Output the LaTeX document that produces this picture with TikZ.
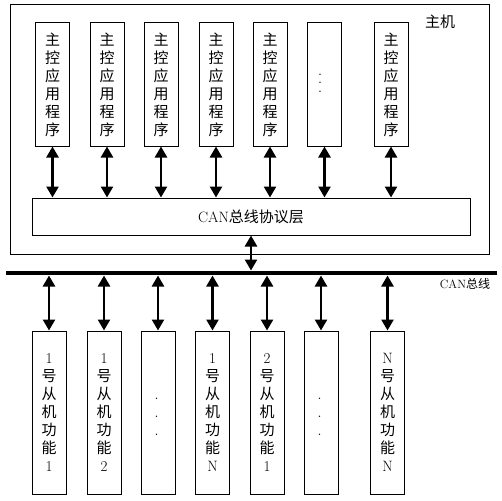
\documentclass[tikz,border=0pt]{standalone}
\usepackage{fontspec}
\newfontfamily\cjk{Noto Sans CJK SC}
\newcommand\lm[1]{{\rmfamily #1}}
\usepackage{tikz}
\usetikzlibrary{arrows.meta}

\begin{document}
\begin{tikzpicture}[x=1pt,y=-1pt,
  box/.style={draw=black,line width=1pt,inner sep=0pt,minimum width=34pt,align=center,font=\cjk\fontsize{15}{18}\selectfont},
  appbox/.style={box,minimum height=123pt},
  slavebox/.style={box,minimum height=163pt},
  dot/.style={inner sep=0pt,font=\bfseries\fontsize{9}{9}\selectfont},
  biarrow/.style={{Triangle[length=11pt,width=12pt]}-{Triangle[length=11pt,width=12pt]},line width=2.5pt}]
\useasboundingbox (0,0) rectangle (502,500);

% host
\node (host)[draw=black,line width=1pt,minimum width=479pt,minimum height=249pt,inner sep=0pt] at (249.5,129.5) {};
\node (hostlabel)[font=\cjk\fontsize{15}{18}\selectfont] at (440,22) {主机};

\node (app1)[appbox] at (52.5,84.5) {主\\控\\应\\用\\程\\序};
\node (app2)[appbox] at (107,84.5) {主\\控\\应\\用\\程\\序};
\node (app3)[appbox] at (161,84.5) {主\\控\\应\\用\\程\\序};
\node (app4)[appbox] at (216,84.5) {主\\控\\应\\用\\程\\序};
\node (app5)[appbox] at (270,84.5) {主\\控\\应\\用\\程\\序};
\node (app6)[appbox] at (324.5,84.5) {};
\node (app6a)[dot] at (320,74.5) {.};
\node (app6b)[dot] at (320,83) {.};
\node (app6c)[dot] at (320,92) {.};
\node (app7)[appbox] at (391,84.5) {主\\控\\应\\用\\程\\序};

\node (proto)[draw=black,line width=1pt,minimum width=438pt,minimum height=37pt,inner sep=0pt,font=\cjk\fontsize{15}{18}\selectfont] at (251,216.5) {\lm{CAN}总线协议层};

\draw[biarrow] (app1.south) to (app1.south |- proto.north);
\draw[biarrow] (app2.south) to (app2.south |- proto.north);
\draw[biarrow] (app3.south) to (app3.south |- proto.north);
\draw[biarrow] (app4.south) to (app4.south |- proto.north);
\draw[biarrow] (app5.south) to (app5.south |- proto.north);
\draw[biarrow] (app6.south) to (app6.south |- proto.north);
\draw[biarrow] (app7.south) to (app7.south |- proto.north);

% bus
\coordinate (busL) at (6,273);
\coordinate (busR) at (497,273);
\draw[line width=4.5pt] (busL) -- (busR);
\node (buslabel)[font=\cjk\fontsize{12}{14}\selectfont,inner sep=0pt] at (465,284) {\lm{CAN}总线};

\draw[biarrow,shorten >=2.5pt] (proto.south) to (proto.south |- busL);

\node (slave1)[slavebox] at (49,412.5) {\lm{1}\\号\\从\\机\\功\\能\\\lm{1}};
\node (slave2)[slavebox] at (104,412.5) {\lm{1}\\号\\从\\机\\功\\能\\\lm{2}};
\node (slave3)[slavebox] at (158,412.5) {};
\node (slave3a)[dot] at (156.5,399) {.};
\node (slave3b)[dot] at (156.5,417) {.};
\node (slave3c)[dot] at (156.5,435) {.};
\node (slave4)[slavebox] at (212.5,412.5) {\lm{1}\\号\\从\\机\\功\\能\\\lm{N}};
\node (slave5)[slavebox] at (267,412.5) {\lm{2}\\号\\从\\机\\功\\能\\\lm{1}};
\node (slave6)[slavebox] at (321,412.5) {};
\node (slave6a)[dot] at (319.5,399) {.};
\node (slave6b)[dot] at (319.5,417) {.};
\node (slave6c)[dot] at (319.5,435) {.};
\node (slave7)[slavebox] at (387.5,412.5) {\lm{N}\\号\\从\\机\\功\\能\\\lm{N}};

\draw[biarrow,shorten <=2.5pt] (slave1.north |- busL) to (slave1.north);
\draw[biarrow,shorten <=2.5pt] (slave2.north |- busL) to (slave2.north);
\draw[biarrow,shorten <=2.5pt] (slave3.north |- busL) to (slave3.north);
\draw[biarrow,shorten <=2.5pt] (slave4.north |- busL) to (slave4.north);
\draw[biarrow,shorten <=2.5pt] (slave5.north |- busL) to (slave5.north);
\draw[biarrow,shorten <=2.5pt] (slave6.north |- busL) to (slave6.north);
\draw[biarrow,shorten <=2.5pt] (slave7.north |- busL) to (slave7.north);
\end{tikzpicture}
\end{document}
